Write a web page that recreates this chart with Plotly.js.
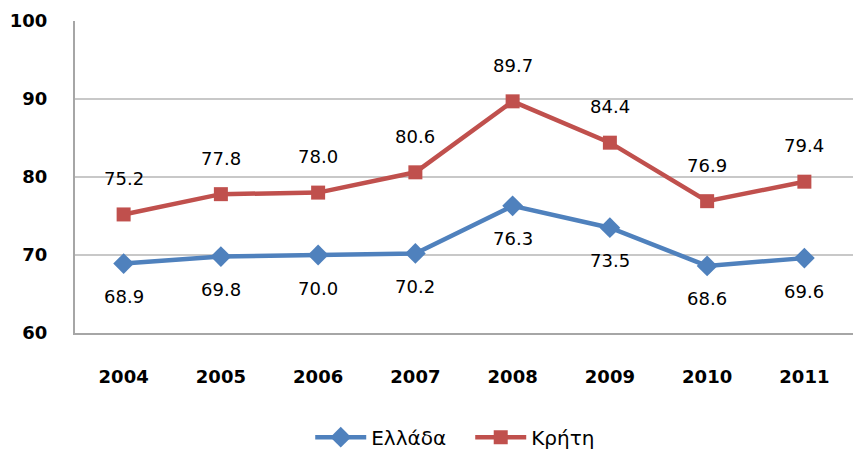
<!DOCTYPE html>
<html><head><meta charset="utf-8">
<script src="https://cdn.plot.ly/plotly-3.0.1.min.js"></script>
<style>body{margin:0;background:#fff}#c{width:853px;height:457px}</style>
</head><body><div id="c"></div>
<script>
var years = ["2004","2005","2006","2007","2008","2009","2010","2011"];
var greece = [68.9, 69.8, 70.0, 70.2, 76.3, 73.5, 68.6, 69.6];
var crete = [75.2, 77.8, 78.0, 80.6, 89.7, 84.4, 76.9, 79.4];
var nameGreece = "Ελλάδα";
var nameCrete = "Κρήτη";

var fontFam = "DejaVu Sans, sans-serif";
var traces = [
  {x: years, y: greece, name: nameGreece, mode: "lines+markers", type: "scatter",
   line: {color: "#4F81BD", width: 4.5}, marker: {symbol: "diamond", size: 16, color: "#4F81BD"}},
  {x: years, y: crete, name: nameCrete, mode: "lines+markers", type: "scatter",
   line: {color: "#C0504D", width: 4.5}, marker: {symbol: "square", size: 14, color: "#C0504D"}}
];
var ann = [];
years.forEach(function(yr, i){
  ann.push({xref: "x", yref: "y", x: i, y: greece[i], text: greece[i].toFixed(1), showarrow: false, yshift: -33,
    font: {family: fontFam, size: 18, color: "#000"}});
  ann.push({xref: "x", yref: "y", x: i, y: crete[i], text: crete[i].toFixed(1), showarrow: false, yshift: 36,
    font: {family: fontFam, size: 18, color: "#000"}});
});
var layout = {
  width: 853, height: 457,
  margin: {l: 75, r: 0, t: 21, b: 122},
  paper_bgcolor: "#fff", plot_bgcolor: "#fff",
  showlegend: true,
  legend: {orientation: "h", x: 0.508, xanchor: "center", y: -0.334, yanchor: "middle",
    itemwidth: 51, entrywidth: 94, font: {family: fontFam, size: 20, color: "#000"}},
  xaxis: {type: "category", range: [-0.5, 7.5], showgrid: false, zeroline: false,
    showline: true, linecolor: "#A6A6A6", linewidth: 2, ticks: "", ticklabelstandoff: 26,
    tickfont: {family: fontFam, size: 18, color: "#000", weight: "bold"}},
  yaxis: {range: [60, 100], dtick: 10, showgrid: true, gridcolor: "#C8C8C8", gridwidth: 2,
    zeroline: false, showline: true, linecolor: "#A6A6A6", linewidth: 2, ticks: "", ticklabelstandoff: 22,
    tickfont: {family: fontFam, size: 18, color: "#000", weight: "bold"}},
  annotations: ann,
  font: {family: fontFam}
};
Plotly.newPlot("c", traces, layout, {displayModeBar: false, staticPlot: true});
</script></body></html>
